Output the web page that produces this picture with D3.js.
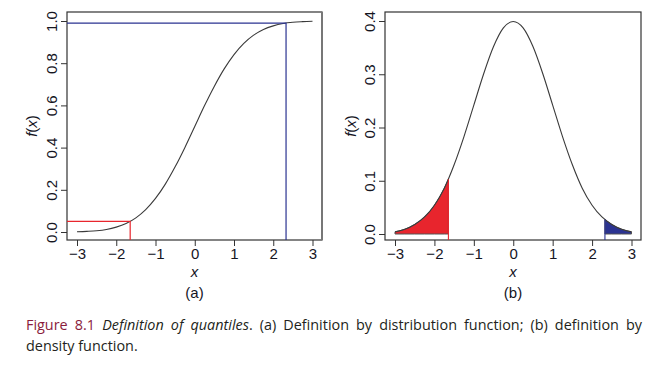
<!DOCTYPE html>
<html>
<head>
<meta charset="utf-8">
<script src="https://cdn.jsdelivr.net/npm/d3@7"></script>
<style>
  body { margin: 0; background: #fff; }
  svg { display: block; }
  .tick text { font-family: "Liberation Sans", Arial, sans-serif; font-size: 15px; fill: #15151f; }
  .tick line { stroke: #333; }
</style>
</head>
<body>
<div id="chart"></div>
<script>
// values, x from -3 to 3 in steps of 0.25
var xs = [-3, -2.75, -2.5, -2.25, -2, -1.75, -1.5, -1.25, -1, -0.75, -0.5, -0.25, 0,
          0.25, 0.5, 0.75, 1, 1.25, 1.5, 1.75, 2, 2.25, 2.5, 2.75, 3];
var cdf = [0.001, 0.003, 0.006, 0.012, 0.023, 0.040, 0.067, 0.106, 0.159, 0.227, 0.309, 0.401, 0.5,
           0.599, 0.691, 0.773, 0.841, 0.894, 0.933, 0.960, 0.977, 0.988, 0.994, 0.997, 0.999];
var dens = [0.004, 0.009, 0.018, 0.032, 0.054, 0.086, 0.130, 0.183, 0.242, 0.301, 0.352, 0.387, 0.399,
            0.387, 0.352, 0.301, 0.242, 0.183, 0.130, 0.086, 0.054, 0.032, 0.018, 0.009, 0.004];

// the two quantiles (lower in red, upper in blue)
var q_x = [-1.645, 2.326];
var q_p = [0.05, 0.99];
var q_d = [0.103, 0.027];

var xTicks = [-3, -2, -1, 0, 1, 2, 3];
var yTicksA = [0, 0.2, 0.4, 0.6, 0.8, 1.0];
var yTicksB = [0, 0.1, 0.2, 0.3, 0.4];

var red = "#e8252d", blue = "#2b3391", curveCol = "#3a3a3a";

var width = 664, height = 373;

var svg = d3.select("#chart").append("svg")
  .attr("width", width)
  .attr("height", height);

// one panel = box + axes + labels
function panel(left, right, yDomTop, yTicks, yRange, letter, labX){
  var top = 12, bottom = 240;
  var x = d3.scaleLinear().domain([-3, 3]).range([left + 10, right - 9.5]);
  var y = d3.scaleLinear().domain([0, yDomTop]).range(yRange);
  var g = svg.append("g");

  g.append("g")
    .attr("transform", "translate(0," + bottom + ")")
    .call(d3.axisBottom(x).tickValues(xTicks).tickFormat(d3.format("d")).tickSize(6).tickPadding(2))
    .call(a => a.select(".domain").remove());

  g.append("g")
    .attr("transform", "translate(" + left + ",0)")
    .call(d3.axisLeft(y).tickValues(yTicks).tickFormat(d3.format(".1f")).tickSize(6))
    .call(a => a.select(".domain").remove())
    .selectAll("text")
    .attr("x", 0).attr("dy", 0)
    .attr("text-anchor", "middle")
    .attr("transform", "translate(-10,0) rotate(-90)");

  // box
  g.append("rect")
    .attr("x", left).attr("y", top)
    .attr("width", right - left).attr("height", bottom - top)
    .attr("fill", "none").attr("stroke", "#333").attr("stroke-width", 1.2);

  g.append("text")
    .attr("x", (left + right) / 2).attr("y", 277)
    .attr("text-anchor", "middle")
    .style("font-family", "Liberation Sans, Arial, sans-serif")
    .style("font-size", "15px").style("font-style", "italic").style("fill", "#15151f")
    .text("x");

  g.append("text")
    .attr("x", (left + right) / 2).attr("y", 298)
    .attr("text-anchor", "middle")
    .style("font-family", "Liberation Sans, Arial, sans-serif")
    .style("font-size", "15px").style("fill", "#15151f")
    .text(letter);

  var fx = g.append("text")
    .attr("transform", "translate(" + labX + "," + ((top + bottom) / 2) + ") rotate(-90)")
    .attr("text-anchor", "middle")
    .style("font-family", "Liberation Sans, Arial, sans-serif")
    .style("font-size", "15px").style("fill", "#15151f");
  fx.append("tspan").style("font-style", "italic").text("f");
  fx.append("tspan").text("(");
  fx.append("tspan").style("font-style", "italic").text("x");
  fx.append("tspan").text(")");

  return {g: g, x: x, y: y, top: top, bottom: bottom, left: left, right: right};
}

// (a) distribution function
var A = panel(67, 322, 1, yTicksA, [232, 21], "(a)", 37);
var ptsA = xs.map((v, i) => [v, cdf[i]]);

// right edge of this box looks greyer and heavier in the print
A.g.append("line")
  .attr("x1", A.right).attr("x2", A.right).attr("y1", A.top).attr("y2", A.bottom)
  .attr("stroke", "#777").attr("stroke-width", 2);

A.g.append("path")
  .datum(ptsA)
  .attr("fill", "none")
  .attr("stroke", curveCol)
  .attr("stroke-width", 1.1)
  .attr("d", d3.line().x(d => A.x(d[0])).y(d => A.y(d[1])).curve(d3.curveMonotoneX));

[red, blue].forEach(function(col, i){
  A.g.append("polyline")
    .attr("fill", "none")
    .attr("stroke", col)
    .attr("stroke-width", 1.2)
    .attr("points", [A.left, A.y(q_p[i]), A.x(q_x[i]), A.y(q_p[i]), A.x(q_x[i]), A.bottom].join(","));
});

// (b) density function
var B = panel(385, 641, 0.4, yTicksB, [234, 21], "(b)", 356);
var ptsB = xs.map((v, i) => [v, dens[i]]);

var area = d3.area().x(d => B.x(d[0])).y0(B.y(0)).y1(d => B.y(d[1])).curve(d3.curveMonotoneX);

// tails
var lowTail = ptsB.filter(d => d[0] < q_x[0]).concat([[q_x[0], q_d[0]]]);
var upTail = [[q_x[1], q_d[1]]].concat(ptsB.filter(d => d[0] > q_x[1]));

B.g.append("path").datum(lowTail)
  .attr("fill", red).attr("stroke", "#555").attr("stroke-width", 1)
  .attr("d", area);
B.g.append("path").datum(upTail)
  .attr("fill", blue).attr("stroke", "#555").attr("stroke-width", 1)
  .attr("d", area);

B.g.append("path")
  .datum(ptsB)
  .attr("fill", "none")
  .attr("stroke", curveCol)
  .attr("stroke-width", 1.1)
  .attr("d", d3.line().x(d => B.x(d[0])).y(d => B.y(d[1])).curve(d3.curveMonotoneX));

[red, blue].forEach(function(col, i){
  B.g.append("line")
    .attr("x1", B.x(q_x[i])).attr("x2", B.x(q_x[i]))
    .attr("y1", B.y(q_d[i])).attr("y2", B.bottom)
    .attr("stroke", col).attr("stroke-width", 1.1);
});

// caption, first line is justified to the right margin
var capFont = "'Open Sans', 'Liberation Sans', Arial, sans-serif";
var capSize = "14.4px";
var cap1 = svg.append("text")
  .attr("x", 26).attr("y", 330)
  .style("font-family", capFont).style("font-size", capSize).style("fill", "#231f20");
cap1.append("tspan").style("fill", "#8a1c3c").text("Figure 8.1\u2002");
cap1.append("tspan").style("font-style", "italic").text("Definition of quantiles");
cap1.append("tspan").text(". (a) Definition by distribution function; (b) definition by");

var natural = cap1.node().getComputedTextLength();
var nSpaces = 11;
cap1.style("word-spacing", ((642 - 26 - natural) / nSpaces) + "px");

svg.append("text")
  .attr("x", 26).attr("y", 351)
  .style("font-family", capFont).style("font-size", capSize).style("fill", "#231f20")
  .text("density function.");
</script>
</body>
</html>
